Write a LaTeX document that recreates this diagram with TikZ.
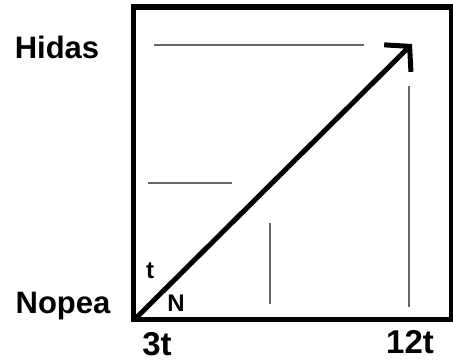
\documentclass[tikz,border=0pt]{standalone}
\usepackage{fontspec}
\setmainfont{Liberation Sans}
\usetikzlibrary{arrows.meta}
\tikzset{
    axislabel/.style={font=\fontsize{31}{31}\selectfont\bfseries, inner sep=0pt, anchor=base},
    smalllabel/.style={font=\fontsize{24}{24}\selectfont\bfseries, inner sep=0pt, anchor=base},
    guide/.style={draw=black!60, line width=1.6pt}
}
\begin{document}
\begin{tikzpicture}[x=1pt, y=-1pt]
    \useasboundingbox (0,0) rectangle (453,362);
    % frame
    \draw[line width=5pt] (133.5,320) -- (133.5,7);
    \draw[line width=6pt] (131,7) -- (453,7);
    \draw[line width=4pt] (451,7) -- (451,322);
    \draw[line width=5pt] (131,319.5) -- (453,319.5);

    % guide lines
    \draw[guide] (154,45) -- (364,45);
    \draw[guide] (148,183) -- (232,183);
    \draw[guide] (270,223) -- (270,304);
    \draw[guide] (409,86) -- (409,307);

    % labels
    \node[axislabel] (hidas) at (57,58) {Hidas};
    \node[axislabel] (nopea) at (63,313) {Nopea};
    \node[axislabel, font=\fontsize{33}{33}\selectfont\bfseries] (t3) at (157,355) {3t};
    \node[axislabel, font=\fontsize{33}{33}\selectfont\bfseries] (t12) at (410,353) {12t};
    \node[smalllabel] (tlbl) at (150,278) {t};
    \node[smalllabel] (nlbl) at (176,311) {N};

    % main arrow
    \coordinate (origin) at (134,320);
    \coordinate (tip) at (412,44);
    \draw[line width=5pt, -{Straight Barb[length=17pt, width=38pt]}] (origin) -- (tip);
\end{tikzpicture}
\end{document}
